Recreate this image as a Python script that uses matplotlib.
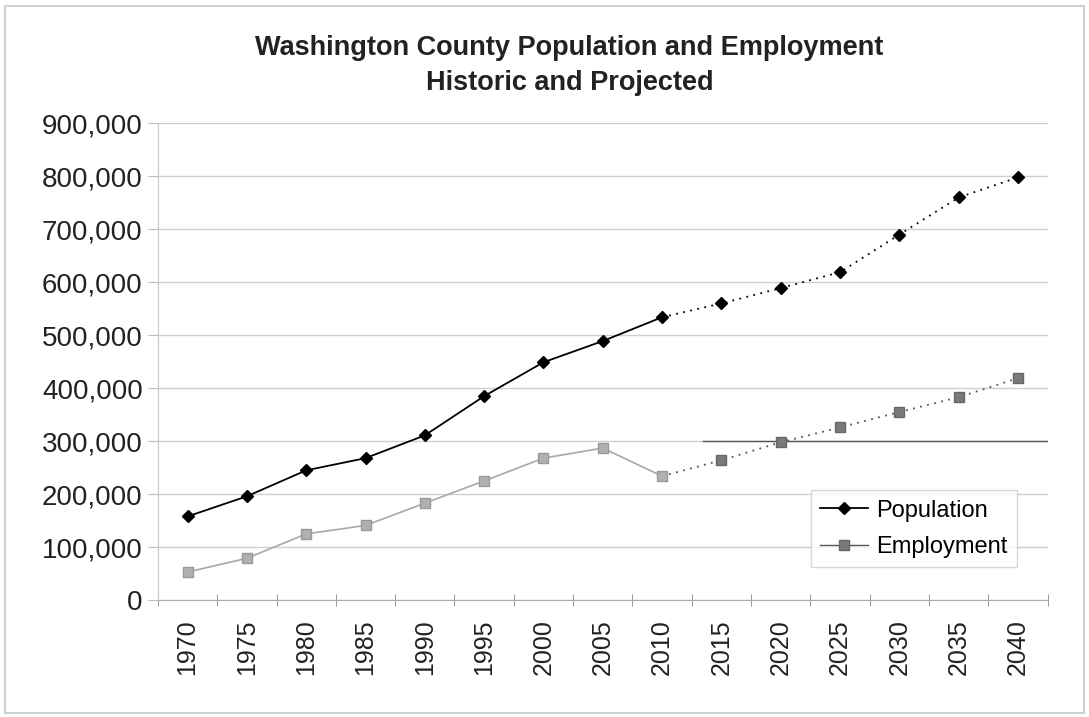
import matplotlib
matplotlib.use('Agg')
import matplotlib.pyplot as plt
from matplotlib.lines import Line2D
from matplotlib.ticker import FuncFormatter, MultipleLocator
import numpy as np

plt.rcParams['font.family'] = ['Liberation Sans', 'DejaVu Sans']

years = [1970, 1975, 1980, 1985, 1990, 1995, 2000, 2005, 2010,
         2015, 2020, 2025, 2030, 2035, 2040]
population = [158000, 196000, 245000, 268000, 311000, 385000, 449000, 489000, 534000,
              560000, 589000, 619000, 690000, 760000, 798000]
employment = [53000, 79000, 125000, 141000, 183000, 225000, 268000, 287000, 234000,
              264000, 298000, 326000, 355000, 383000, 419000]
last_historic = 2010

fig = plt.figure(figsize=(10.89, 7.17), dpi=100)
ax = fig.add_axes([0.145, 0.163, 0.817, 0.665])

yrs = np.array(years)
pop = np.array(population)
emp = np.array(employment)
hist = yrs <= last_historic
proj = yrs >= last_historic

# historic (solid) and projected (dotted) segments
ax.plot(yrs[hist], pop[hist], color='black', lw=1.3, zorder=4)
ax.plot(yrs[proj], pop[proj], color='black', lw=1.3, ls=(0, (1, 3)), zorder=4)
ax.plot(yrs, pop, ls='none', marker='D', ms=6, color='black', zorder=5)

ax.plot(yrs[hist], emp[hist], color='#a8a8a8', lw=1.2, zorder=4)
ax.plot(yrs[proj], emp[proj], color='#555555', lw=1.3, ls=(0, (1, 3)), zorder=4)
ax.plot(yrs[hist], emp[hist], ls='none', marker='s', ms=7, color='#b0b0b0',
        mec='#999999', zorder=5)
ax.plot(yrs[yrs > last_historic], emp[yrs > last_historic], ls='none', marker='s', ms=7,
        color='#7a7a7a', mec='#666666', zorder=5)

ax.set_xlim(1967.5, 2042.5)
ax.set_ylim(0, 900000)
ax.yaxis.set_major_locator(MultipleLocator(100000))
ax.yaxis.set_major_formatter(FuncFormatter(lambda v, p: f"{int(v):,}"))
ax.grid(axis='y', color='#cfcfcf', lw=1)
ax.set_axisbelow(True)
# darker stretch of the 300,000 gridline seen in the scan
ax.axhline(300000, xmin=0.613, xmax=1.0, color='#555555', lw=1, zorder=2)

ax.set_xticks(years)
ax.set_xticklabels([str(y) for y in years], rotation=90)
ax.set_xticks(np.arange(1967.5, 2043, 5), minor=True)
ax.tick_params(axis='x', which='major', length=0, pad=14, labelsize=18, colors='#222222')
ax.tick_params(axis='x', which='minor', length=8, direction='inout', color='#888888')
ax.tick_params(axis='y', length=7, color='#bbbbbb', labelsize=20, labelcolor='#222222', pad=4)

for s in ['top', 'right']:
    ax.spines[s].set_visible(False)
ax.spines['left'].set_color('#c8c8c8')
ax.spines['bottom'].set_color('#aaaaaa')

fig.text(0.523, 0.909, "Washington County Population and Employment\nHistoric and Projected",
         ha='center', va='center', fontsize=19.5, fontweight='bold', color='#222222',
         linespacing=1.45)

handles = [Line2D([], [], color='black', lw=1.3, marker='D', ms=6),
           Line2D([], [], color='#555555', lw=1, marker='s', ms=7, mfc='#7a7a7a', mec='#666666')]
leg = ax.legend(handles, ['Population', 'Employment'], loc='lower left',
                bbox_to_anchor=(0.734, 0.069), borderaxespad=0, fontsize=17, frameon=True,
                fancybox=False, edgecolor='#cccccc', handlelength=2.0, handletextpad=0.35,
                borderpad=0.4, labelspacing=0.6)
leg.get_frame().set_linewidth(1)

# faint outer frame
fig.patches.append(plt.Rectangle((0.005, 0.006), 0.99, 0.985, transform=fig.transFigure,
                                 fill=False, edgecolor='#d0d0d0', lw=1.5))

fig.savefig('out.png', dpi=100)
